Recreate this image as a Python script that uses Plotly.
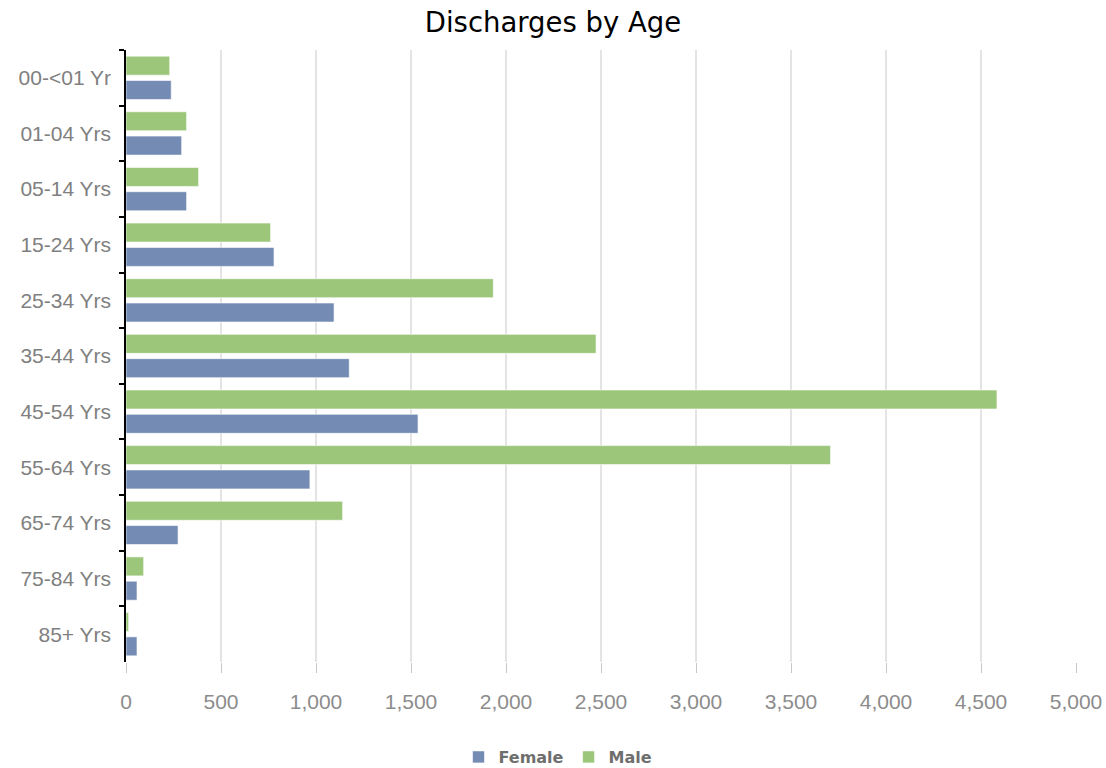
import plotly.graph_objects as go

categories = ["00-<01 Yr", "01-04 Yrs", "05-14 Yrs", "15-24 Yrs", "25-34 Yrs", "35-44 Yrs",
              "45-54 Yrs", "55-64 Yrs", "65-74 Yrs", "75-84 Yrs", "85+ Yrs"]
female = [238, 293, 319, 779, 1095, 1175, 1537, 968, 274, 58, 58]
male = [230, 319, 382, 761, 1933, 2474, 4584, 3708, 1140, 93, 14]
x_ticks = [0, 500, 1000, 1500, 2000, 2500, 3000, 3500, 4000, 4500, 5000]
x_ticktext = ["0", "500", "1,000", "1,500", "2,000", "2,500", "3,000", "3,500", "4,000", "4,500", "5,000"]

BLUE = "#748bb4"
GREEN = "#9cc67a"

fig = go.Figure()
fig.add_trace(go.Bar(
    y=categories, x=male, name="Male", orientation="h",
    marker=dict(color=GREEN, line=dict(color="rgba(255,255,255,0.6)", width=1)),
    legendrank=2,
))
fig.add_trace(go.Bar(
    y=categories, x=female, name="Female", orientation="h",
    marker=dict(color=BLUE, line=dict(color="rgba(255,255,255,0.6)", width=1)),
    legendrank=1,
))

W, H = 1106, 768
fig.update_layout(
    width=W, height=H,
    paper_bgcolor="white", plot_bgcolor="white",
    margin=dict(l=126, r=30, t=50, b=106),
    barmode="group", bargap=0.126, bargroupgap=0.218,
    title=dict(text="Discharges by Age", x=553 / W, xanchor="center", xref="container",
               y=1 - 22 / H, yanchor="middle", yref="container",
               font=dict(family="DejaVu Sans", size=27.5, color="#000000")),
    showlegend=True,
    legend=dict(orientation="h", x=558 / W, xanchor="center", xref="container",
                y=11 / H, yanchor="middle", yref="container",
                font=dict(family="DejaVu Sans", size=16, color="#6e6e6e", weight="bold"),
                itemwidth=30, tracegroupgap=0),
    font=dict(family="Liberation Sans"),
)

fig.update_xaxes(
    range=[0, 5000], tickmode="array", tickvals=x_ticks, ticktext=x_ticktext,
    showgrid=True, gridcolor="#e4e4e4", gridwidth=1.5,
    zeroline=False, showline=False, automargin=False,
    ticks="outside", ticklen=10, tickcolor="#c8c8c8", tickwidth=1,
    ticklabelstandoff=11,
    tickfont=dict(family="Liberation Sans", size=21, color="#8c8c8c"),
)
fig.update_yaxes(
    categoryorder="array", categoryarray=categories, autorange="reversed",
    showgrid=False, zeroline=False, automargin=False,
    showline=True, linecolor="#000000", linewidth=1.5,
    ticks="outside", ticklen=5, tickcolor="#000000", tickwidth=1.5,
    tickson="boundaries", ticklabelstandoff=9,
    tickfont=dict(family="Liberation Sans", size=21, color="#808080"),
)

fig.write_html("out.html", config={"displayModeBar": False},
               post_script="document.body.style.margin='0';document.body.style.overflow='hidden';")
